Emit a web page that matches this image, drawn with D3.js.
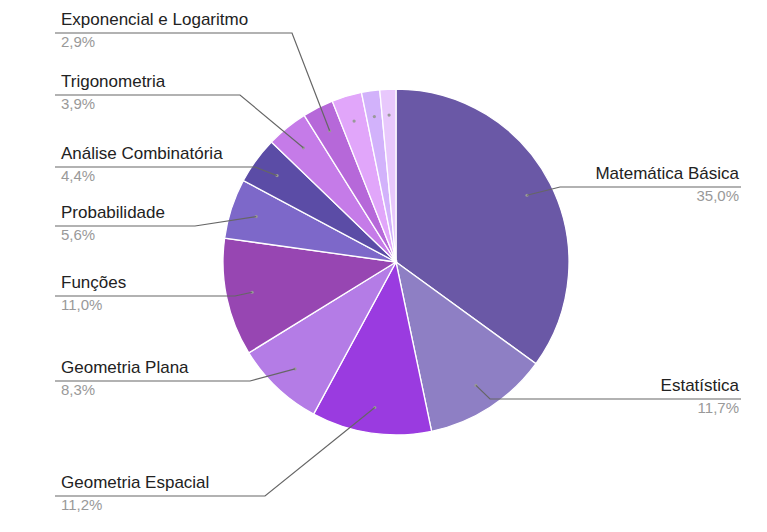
<!DOCTYPE html><html><head><meta charset="utf-8">
<script src="https://cdn.jsdelivr.net/npm/d3@7"></script>
<style>body{margin:0;background:#fff}text{font-family:Arial,"Liberation Sans",sans-serif}</style></head><body>
<svg id="c" width="767" height="532"></svg>
<script>
const categories=["Matemática Básica","Estatística","Geometria Espacial","Geometria Plana","Funções","Probabilidade","Análise Combinatória","Trigonometria","Exponencial e Logaritmo","Outro A","Outro B","Outro C"];
const values=[35.0,11.7,11.2,8.3,11.0,5.6,4.4,3.9,2.9,2.8,1.7,1.5];
const labels=["35,0%","11,7%","11,2%","8,3%","11,0%","5,6%","4,4%","3,9%","2,9%","","",""];
const colors=["#6a58a6","#8e7fc4","#9a3be0","#b47ce6","#9746b2","#7d68c9","#5b4ca6","#c57be8","#b668d9","#e1a6fa","#d2b2fb","#e8c8fc"];
// layout: [side, lineY, elbowX]
const layout=[["r",187,560],["r",399,490],["l",496,265],["l",381,250],["l",296,235],["l",226,195],["l",167,255],["l",95,240],["l",33,292]];
const cx=396,cy=262,R=173;
const svg=d3.select("#c");
const pie=d3.pie().sort(null).value(d=>d)(values);
const arc=d3.arc().innerRadius(0).outerRadius(R);
const g=svg.append("g").attr("transform",`translate(${cx},${cy})`);
g.selectAll("path").data(pie).join("path").attr("d",arc).attr("fill",(d,i)=>colors[i]).attr("stroke","#fff").attr("stroke-width",1.3);
const inner=d3.arc().innerRadius(R*0.85).outerRadius(R*0.85);
pie.forEach((d,i)=>{
  const [px,py]=inner.centroid(d); const dx=cx+px,dy=cy+py;
  svg.append("circle").attr("cx",dx).attr("cy",dy).attr("r",1.6).attr("fill","#999");
  if(i>=layout.length)return;
  const [side,ly,ex]=layout[i];
  const x0=side==="l"?55:741;
  svg.append("polyline").attr("points",`${x0},${ly} ${ex},${ly} ${dx},${dy}`).attr("fill","none").attr("stroke","#666").attr("stroke-width",1.2);
  const tx=side==="l"?61:739, anc=side==="l"?"start":"end";
  svg.append("text").attr("x",tx).attr("y",ly-8).attr("text-anchor",anc).attr("font-size",17).attr("fill","#222").text(categories[i]);
  svg.append("text").attr("x",tx).attr("y",ly+14).attr("text-anchor",anc).attr("font-size",15).attr("fill","#999").text(labels[i]);
});
</script></body></html>
